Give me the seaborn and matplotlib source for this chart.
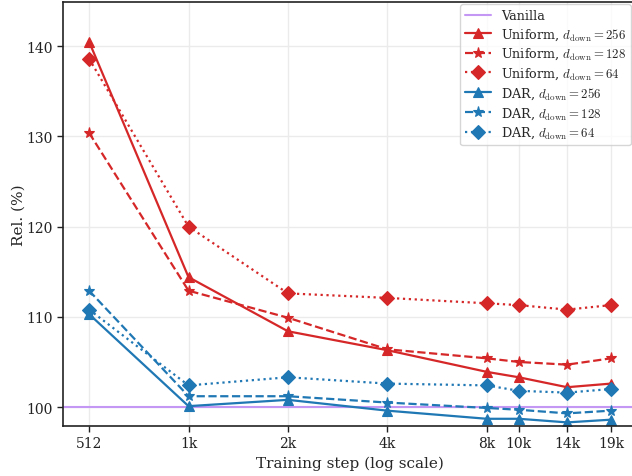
import matplotlib
matplotlib.use("Agg")
import matplotlib.pyplot as plt
import seaborn as sns
import numpy as np
import pandas as pd

steps = [512, 1024, 2048, 4096, 8192, 10240, 14336, 19456]
tick_labels = ["512", "1k", "2k", "4k", "8k", "10k", "14k", "19k"]

uniform_256 = [140.5, 114.4, 108.4, 106.3, 103.9, 103.3, 102.2, 102.6]
uniform_128 = [130.4, 112.9, 109.9, 106.4, 105.4, 105.0, 104.7, 105.4]
uniform_64 = [138.6, 120.0, 112.6, 112.1, 111.5, 111.3, 110.8, 111.3]
dar_256 = [110.3, 100.1, 100.8, 99.6, 98.7, 98.7, 98.3, 98.6]
dar_128 = [112.9, 101.2, 101.2, 100.5, 99.9, 99.7, 99.3, 99.6]
dar_64 = [110.8, 102.4, 103.3, 102.6, 102.4, 101.8, 101.6, 102.0]
vanilla = 100.0

sns.set_theme(style="whitegrid")
plt.rcParams["font.family"] = ["DejaVu Serif"]
plt.rcParams["mathtext.fontset"] = "cm"
plt.rcParams["axes.edgecolor"] = "#222222"
plt.rcParams["grid.color"] = "#ebebeb"
plt.rcParams["xtick.bottom"] = True
plt.rcParams["ytick.left"] = True

fig = plt.figure(figsize=(6.32, 4.77), dpi=100)
ax = fig.add_axes([63 / 632, 50 / 477, (637 - 63) / 632, (427 - 3) / 477])

red = "#d62728"
blue = "#1f77b4"
series = [
    ("Uniform, $d_{\\rm down}=256$", uniform_256, red, "-", "^", 7.5),
    ("Uniform, $d_{\\rm down}=128$", uniform_128, red, "--", "*", 8),
    ("Uniform, $d_{\\rm down}=64$", uniform_64, red, ":", "D", 7),
    ("DAR, $d_{\\rm down}=256$", dar_256, blue, "-", "^", 7.5),
    ("DAR, $d_{\\rm down}=128$", dar_128, blue, "--", "*", 8),
    ("DAR, $d_{\\rm down}=64$", dar_64, blue, ":", "D", 7),
]

ax.axhline(vanilla, color="#c597f5", lw=1.5, label="Vanilla", zorder=1)
for label, vals, c, ls, m, ms in series:
    df = pd.DataFrame({"step": steps, "val": vals})
    sns.lineplot(data=df, x="step", y="val", ax=ax, color=c, linestyle=ls,
                 marker=m, markersize=ms, markeredgewidth=0.8, markeredgecolor=c,
                 lw=1.6, label=label)

ax.set_xscale("log")
ax.set_xticks(steps)
ax.set_xticklabels(tick_labels)
ax.minorticks_off()
ax.set_ylim(97.9, 144.9)
ax.set_yticks([100, 110, 120, 130, 140])
ax.tick_params(axis="both", labelsize=10, length=4, width=1, colors="#222222")
ax.set_xlabel("Training step (log scale)", fontsize=11)
ax.set_ylabel("Rel. (%)", fontsize=11, labelpad=0)
for s in ["left", "bottom", "top"]:
    ax.spines[s].set_linewidth(1.2)
ax.spines["right"].set_visible(False)

leg = ax.legend(loc="upper right", bbox_to_anchor=(631 / 632, 1 - 5 / 477),
                bbox_transform=fig.transFigure, fontsize=9.2, frameon=True,
                borderaxespad=0, handlelength=2.0, labelspacing=0.33)
leg.get_frame().set_edgecolor("#cccccc")

fig.savefig("out.png", dpi=100)
